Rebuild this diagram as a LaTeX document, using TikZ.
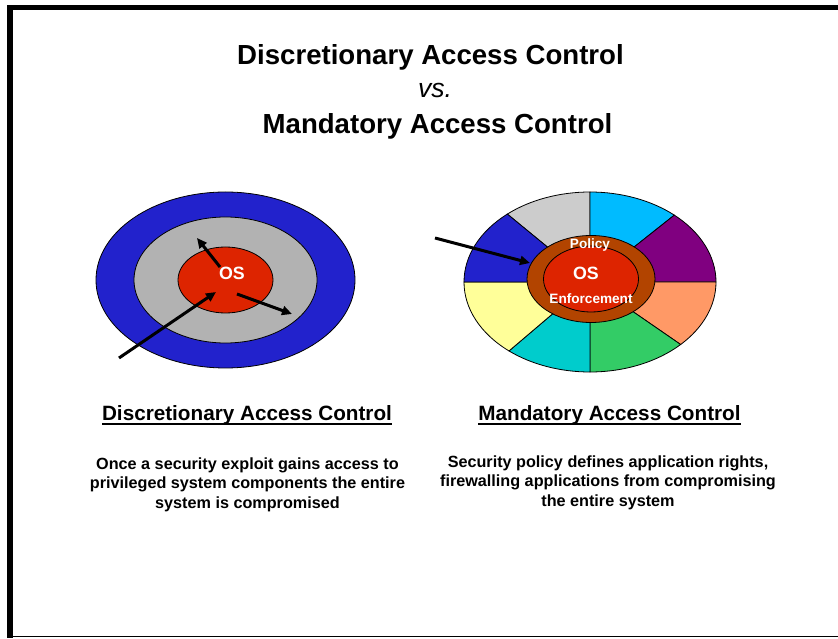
\documentclass[tikz,border=0pt]{standalone}
\usepackage{fontspec}
\setmainfont{Liberation Sans}
\usetikzlibrary{arrows.meta}

\definecolor{dacblue}{RGB}{34,34,204}
\definecolor{dacgray}{RGB}{178,178,178}
\definecolor{osred}{RGB}{221,36,0}
\definecolor{policybrown}{RGB}{178,68,0}
\definecolor{segsilver}{RGB}{204,204,204}
\definecolor{segcyan}{RGB}{0,187,255}
\definecolor{segpurple}{RGB}{128,0,128}
\definecolor{segsalmon}{RGB}{255,153,102}
\definecolor{seggreen}{RGB}{51,204,102}
\definecolor{segteal}{RGB}{0,204,204}
\definecolor{segyellow}{RGB}{255,255,153}

\newcommand{\ulhead}[1]{\setbox0=\hbox{#1}\rlap{\rule[-0.22em]{\wd0}{0.09em}}\box0}

\tikzstyle{slidetitle}=[inner sep=0pt,anchor=base,font=\bfseries\fontsize{27.6}{33}\selectfont]
\tikzstyle{colhead}=[inner sep=0pt,anchor=base,font=\bfseries\fontsize{20.7}{25}\selectfont]
\tikzstyle{colbody}=[inner sep=0pt,anchor=base,align=center,font=\bfseries\fontsize{16.2}{19.5}\selectfont]
\tikzstyle{oslabel}=[inner sep=0pt,text=white,font=\bfseries\fontsize{17.8}{20}\selectfont]
\tikzstyle{ringlabel}=[inner sep=0pt,text=white,font=\bfseries\fontsize{13.6}{16}\selectfont]
\tikzstyle{ring}=[draw=black,line width=0.8pt]
\tikzstyle{attack}=[line width=3pt,-{Triangle[length=10pt,width=9pt]}]

\begin{document}
\begin{tikzpicture}[x=1pt,y=1pt]
    \useasboundingbox (0,0) rectangle (838,638);

    % frame
    \fill (7,0) rectangle (13,633);
    \fill (7,628) rectangle (838,633);
    \draw[line width=1.5pt] (13,1.3) -- (838,1.3);

    \node (head1)[slidetitle] at (430.5,573) {Discretionary Access Control};
    \node (head2)[slidetitle,font=\itshape\fontsize{26.6}{30}\selectfont] at (435,540) {vs.};
    \node (head3)[slidetitle] at (437.5,504) {Mandatory Access Control};

    % discretionary: nested rings
    \coordinate (dac) at (225.5,358);
    \filldraw[ring,fill=dacblue] (dac) ellipse [x radius=129.5pt,y radius=88pt];
    \filldraw[ring,fill=dacgray] (dac) ellipse [x radius=91.5pt,y radius=63pt];
    \filldraw[ring,fill=osred] (dac) ellipse [x radius=47.5pt,y radius=33pt];
    \node (dacos)[oslabel] at (232,365) {OS};

    \coordinate (exploit) at (119,280);
    \coordinate (breach) at (216,346);
    \coordinate (leak1) at (220,371);
    \coordinate (leak1tip) at (197,400);
    \coordinate (leak2) at (237,344);
    \coordinate (leak2tip) at (292,324);
    \draw[attack] (exploit) -- (breach);
    \draw[attack] (leak1) -- (leak1tip);
    \draw[attack] (leak2) -- (leak2tip);

    % mandatory: segmented ring around the enforcement core
    \coordinate (mac) at (590,356);
    \filldraw[ring,fill=segsilver] (mac) -- ++(131:126pt and 90pt) arc[start angle=131,end angle=90,x radius=126pt,y radius=90pt] -- cycle;
    \filldraw[ring,fill=segcyan] (mac) -- ++(90:126pt and 90pt) arc[start angle=90,end angle=48,x radius=126pt,y radius=90pt] -- cycle;
    \filldraw[ring,fill=segpurple] (mac) -- ++(48:126pt and 90pt) arc[start angle=48,end angle=0,x radius=126pt,y radius=90pt] -- cycle;
    \filldraw[ring,fill=segsalmon] (mac) -- ++(0:126pt and 90pt) arc[start angle=0,end angle=-44,x radius=126pt,y radius=90pt] -- cycle;
    \filldraw[ring,fill=seggreen] (mac) -- ++(-44:126pt and 90pt) arc[start angle=-44,end angle=-90,x radius=126pt,y radius=90pt] -- cycle;
    \filldraw[ring,fill=segteal] (mac) -- ++(-90:126pt and 90pt) arc[start angle=-90,end angle=-130,x radius=126pt,y radius=90pt] -- cycle;
    \filldraw[ring,fill=segyellow] (mac) -- ++(-130:126pt and 90pt) arc[start angle=-130,end angle=-180,x radius=126pt,y radius=90pt] -- cycle;
    \filldraw[ring,fill=dacblue] (mac) -- ++(180:126pt and 90pt) arc[start angle=180,end angle=131,x radius=126pt,y radius=90pt] -- cycle;

    \coordinate (core) at (591,359);
    \filldraw[ring,fill=policybrown] (core) ellipse [x radius=64pt,y radius=43.5pt];
    \filldraw[ring,fill=osred] (core) ellipse [x radius=47.5pt,y radius=33pt];
    \node (policy)[ringlabel] at (590,393) {Policy};
    \node (macos)[oslabel] at (586,365) {OS};
    \node (enforce)[ringlabel] at (591,339) {Enforcement};

    \coordinate (intruder) at (435,400);
    \coordinate (stopped) at (530,375);
    \draw[attack] (intruder) -- (stopped);

    % column texts
    \node (dachead)[colhead] at (247,217.5) {\ulhead{Discretionary Access Control}};
    \node (macchead)[colhead] at (609.5,218) {\ulhead{Mandatory Access Control}};
    \node (dactext)[colbody] at (247.5,130) {Once a security exploit gains access to\\privileged system components the entire\\system is compromised};
    \node (mactext)[colbody] at (608,132) {Security policy defines application rights,\\firewalling applications from compromising\\the entire system};
\end{tikzpicture}
\end{document}
